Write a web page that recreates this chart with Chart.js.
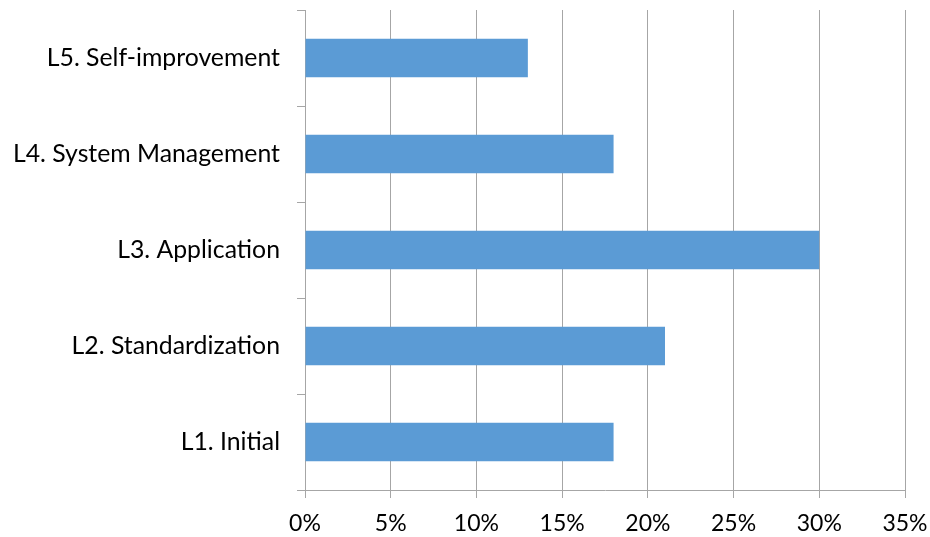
<!DOCTYPE html>
<html>
<head>
<meta charset="utf-8">
<script src="https://cdn.jsdelivr.net/npm/chart.js@4"></script>
<style>
  html, body { margin: 0; padding: 0; background: #fff; }
  #wrap { width: 930px; height: 537px; }
</style>
</head>
<body>
<div id="wrap"><canvas id="barChart" width="930" height="537"></canvas></div>
<script>
var levels = ["L5. Self-improvement", "L4. System Management", "L3. Application", "L2. Standardization", "L1. Initial"];
var shares = [13, 18, 30, 21, 18];
var xTicks = [0, 5, 10, 15, 20, 25, 30, 35];

var axisGrey = '#a6a6a6';
var yFont = { family: 'Lato, Carlito, "Open Sans", sans-serif', size: 24.8 };
var xFont = { family: 'Lato, Carlito, "Open Sans", sans-serif', size: 23 };

var bar_chart = new Chart(document.getElementById('barChart'), {
    type: 'bar',
    data: {
        labels: levels,
        datasets: [{
            data: shares,
            backgroundColor: '#5b9bd5',
            borderWidth: 0,
            categoryPercentage: 1,
            barPercentage: 0.4
        }]
    },
    options: {
        indexAxis: 'y',
        responsive: false,
        animation: false,
        layout: { padding: { top: 10, right: 25, left: 0, bottom: 0 } },
        plugins: { legend: { display: false }, tooltip: { enabled: false } },
        scales: {
            x: {
                min: 0,
                max: 35,
                afterBuildTicks: function(axis) {
                    axis.ticks = xTicks.map(v => ({ value: v }));
                },
                afterFit: function(axis) {
                    axis.height = 47;
                    axis.paddingLeft = 0;
                    axis.paddingRight = 0;
                },
                grid: { color: axisGrey, lineWidth: 1, tickLength: 8 },
                border: { display: true, color: axisGrey, width: 1 },
                ticks: {
                    color: '#000',
                    font: xFont,
                    padding: 12,
                    maxRotation: 0,
                    callback: function(v) { return v + '%'; }
                }
            },
            y: {
                afterFit: function(axis) {
                    axis.width = 305;
                    axis.paddingTop = 0;
                    axis.paddingBottom = 0;
                },
                grid: { offset: true, drawOnChartArea: false, color: axisGrey, lineWidth: 1, tickLength: 8 },
                border: { display: true, color: axisGrey, width: 1 },
                ticks: { color: '#000', font: yFont, padding: 17 }
            }
        }
    }
});
</script>
</body>
</html>
